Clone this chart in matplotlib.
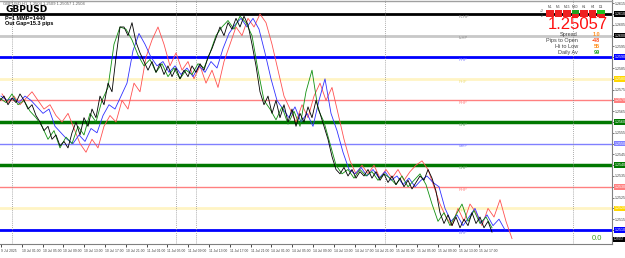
import numpy as np
import matplotlib
matplotlib.use("Agg")
import matplotlib.pyplot as plt
from matplotlib.patches import Rectangle
from matplotlib.transforms import blended_transform_factory

# ---------------- data (price offsets in pips above 1.2500) ----------------
base_price = 1.2500
black_pips = [70, 72, 68, 71, 69, 73, 70, 66, 68, 63, 60, 56, 58, 52, 54, 49, 51, 48, 55, 60,
              54, 62, 58, 66, 62, 72, 68, 78, 74, 90, 104, 104, 100, 106, 97, 92, 88, 84, 88, 83,
              87, 82, 86, 81, 85, 80, 84, 81, 86, 83, 87, 84, 90, 94, 99, 104, 100, 106, 103, 108,
              104, 109, 105, 96, 86, 74, 68, 72, 64, 70, 62, 68, 60, 66, 58, 64, 60, 67, 62, 70,
              64, 58, 52, 44, 38, 36, 39, 35, 38, 34, 37, 35, 38, 34, 37, 33, 36, 32, 35, 31,
              34, 30, 33, 29, 32, 35, 33, 38, 34, 28, 18, 13, 17, 12, 16, 11, 15, 12, 18, 13,
              16, 11, 14, 9]
green_pips = [71, 69, 73, 68, 70, 65, 62, 58, 52, 56, 48, 53, 50, 58, 54, 64, 60, 70, 76, 96,
              104, 103, 98, 91, 86, 89, 83, 87, 81, 85, 80, 84, 82, 87, 85, 92, 100, 104, 107, 103,
              109, 106, 100, 84, 70, 66, 61, 67, 59, 65, 58, 74, 84, 66, 60, 50, 40, 36, 38, 34,
              38, 35, 37, 33, 36, 34, 31, 35, 30, 33, 36, 31, 22, 14, 18, 12, 17, 22, 14, 19,
              13, 16, 11]
blue_pips = [72, 70, 71, 69, 72, 70, 67, 64, 66, 58, 55, 52, 50, 54, 51, 57, 55, 63, 68, 66,
             72, 78, 93, 101, 96, 90, 86, 88, 83, 86, 82, 85, 81, 86, 83, 88, 85, 94, 101, 105,
             108, 104, 108, 103, 92, 80, 70, 66, 62, 67, 60, 64, 58, 70, 80, 64, 56, 46, 38, 36,
             39, 35, 38, 34, 37, 33, 35, 31, 34, 30, 33, 35, 32, 30, 20, 14, 17, 12, 16, 20,
             13, 17, 12, 15, 10]
red_pips = [73, 69, 72, 68, 71, 74, 70, 66, 68, 63, 60, 64, 57, 50, 46, 52, 48, 58, 63, 60,
            70, 66, 78, 74, 90, 98, 104, 96, 86, 92, 84, 88, 80, 86, 78, 84, 76, 88, 96, 104,
            100, 108, 104, 110, 106, 96, 84, 72, 66, 60, 68, 62, 72, 78, 70, 76, 64, 52, 42, 36,
            40, 36, 40, 34, 38, 34, 38, 33, 37, 40, 42, 38, 30, 22, 16, 12, 20, 14, 22, 18,
            12, 20, 16, 24, 14, 6]

level_prices = [1.2610, 1.2600, 1.2590, 1.2580, 1.2570, 1.2560, 1.2550, 1.2540, 1.2530, 1.2520, 1.2510]
level_names = ["F+HP", "I+HP", "RHP", "PHP", "RHP", "GHP", "MHP", "GHP", "RHP", "PHP", "BHP"]
level_colors = ["#000000", "#c8c8c8", "#0000ff", "#fff4c4", "#ff8080", "#007800",
                "#8080ff", "#007800", "#ff8080", "#fff4c4", "#0000ff"]
level_widths = [2.0, 2.0, 2.0, 2.0, 1.0, 2.5, 1.0, 2.5, 1.0, 2.0, 2.0]
level_text_colors = ["#888888", "#888888", "#8080ff", "#f0e080", "#ff8080", "#60a060",
                     "#8080ff", "#60a060", "#ff8080", "#f0e080", "#8080ff"]

date_labels = ["9 Jul 2025", "10 Jul 01:00", "10 Jul 05:00", "10 Jul 09:00", "10 Jul 13:00",
               "10 Jul 17:00", "10 Jul 21:00", "11 Jul 01:00", "11 Jul 05:00", "11 Jul 09:00",
               "11 Jul 13:00", "11 Jul 17:00", "11 Jul 21:00", "14 Jul 01:00", "14 Jul 05:00",
               "14 Jul 09:00", "14 Jul 13:00", "14 Jul 17:00", "14 Jul 21:00", "15 Jul 01:00",
               "15 Jul 05:00", "15 Jul 09:00", "15 Jul 13:00", "15 Jul 17:00"]

current_price = 1.25057
symbol = "GBPUSD"
header = "GBPUSD,H1  1.2504 1.2509 1.25057 1.2504"
info_labels = ["Spread", "Pips to Open", "Hi to Low", "Daily Av"]
info_values = ["1.0", "-48", "55", "99"]
info_colors = ["#ff9020", "#ff5020", "#ff9020", "#20a020"]
tf_labels = ["M1", "M5", "M15", "M30", "H1", "H4", "D1"]
tf_colors = ["#ee2020", "#ee2020", "#ee2020", "#20a020", "#ee2020", "#ee2020", "#20c020"]

# ---------------- figure ----------------
W, H = 625, 258
fig = plt.figure(figsize=(W / 100, H / 100), dpi=100)
ax = fig.add_axes([0, 14 / H, 612 / W, 244 / H])
ax.set_facecolor("white")
ax.set_xlim(0, 612)
ax.set_ylim(1.25035, 1.26165)

def to_price(p):
    return base_price + np.asarray(p) / 10000.0

NF = "Liberation Sans"

# levels
for lp, lc, lw, ln, tc in zip(level_prices, level_colors, level_widths, level_names, level_text_colors):
    ax.axhline(lp, color=lc, lw=lw, zorder=1)
    ax.text(459, lp - 0.00004, ln, fontsize=3.0, color=tc, va="top", ha="left", zorder=2, family=NF)

# separators
for xs in [12, 176, 196, 385, 573]:
    ax.axvline(xs, color="#909090", lw=0.6, ls=(0, (1, 1.5)), zorder=1)

# price lines
step_b = 4
step_o = 6
ax.plot(np.arange(len(red_pips)) * step_o + 2, to_price(red_pips), color="#ff5050", lw=0.6, zorder=3)
ax.plot(np.arange(len(blue_pips)) * step_o + 1, to_price(blue_pips), color="#3030ff", lw=0.6, zorder=4)
ax.plot(np.arange(len(green_pips)) * step_o, to_price(green_pips), color="#109010", lw=0.6, zorder=5)
ax.plot(np.arange(len(black_pips)) * step_b, to_price(black_pips), color="#000000", lw=0.6, zorder=6)

# axes styling
for s in ["left", "top"]:
    ax.spines[s].set_visible(False)
ax.spines["right"].set_color("#808080")
ax.spines["bottom"].set_color("#808080")
ax.spines["right"].set_linewidth(0.8)
ax.spines["bottom"].set_linewidth(0.8)
ax.yaxis.tick_right()
yt = np.arange(1.2510, 1.2617, 0.0005)
ax.set_yticks(yt)
ax.set_yticklabels(["%.4f" % v for v in yt], fontsize=2.6, color="#404040", family=NF)
ax.tick_params(axis="y", length=1.5, width=0.5, pad=0.8, colors="#404040")
xt = 1 + np.arange(len(date_labels)) * 20.8
ax.set_xticks(xt)
ax.set_xticklabels(date_labels, fontsize=2.4, color="#404040", ha="left", family=NF)
ax.tick_params(axis="x", length=2, width=0.5, pad=1.5)

# right axis colored boxes
trans = blended_transform_factory(ax.transAxes, ax.transData)
for lp, lc in zip(level_prices, level_colors):
    fc = lc
    if lc == "#fff4c4":
        fc = "#ffd700"
    if lc == "#c8c8c8":
        fc = "#000000"
    ax.text(1.004, lp, "%.4f" % lp, transform=trans, fontsize=2.6, color="white", va="center", ha="left",
            bbox=dict(boxstyle="square,pad=0.2", fc=fc, ec="none"), zorder=10, clip_on=False, family=NF)
ax.text(1.003, current_price, "%.5f" % current_price, transform=trans, fontsize=2.0, color="white",
        va="center", ha="left", bbox=dict(boxstyle="square,pad=0.2", fc="black", ec="none"),
        zorder=10, clip_on=False, family=NF)

# ---------------- overlays in pixel coordinates ----------------
def fx(x):
    return x / W

def fy(y):
    return 1 - y / H

fig.add_artist(plt.Line2D([0, fx(612)], [fy(0.5), fy(0.5)], color="#a0a0a0", lw=1))

fig.text(fx(3), fy(4), header, fontsize=3, color="#606060", va="center", ha="left", family=NF)
fig.text(fx(5), fy(9.5), symbol, fontsize=6.5, fontweight="bold", color="black", va="center", ha="left")
fig.text(fx(5), fy(18), "P=1 MMP=1440", fontsize=4, fontweight="bold", color="black", va="center",
         ha="left", family=NF)
fig.text(fx(5), fy(24), "Out Gap=15.3 pips", fontsize=4, fontweight="bold", color="black", va="center",
         ha="left", family=NF)

# timeframe signal grid
for i, (tl, tc) in enumerate(zip(tf_labels, tf_colors)):
    cx = 550 + i * 8.5
    fig.text(fx(cx), fy(7), tl, fontsize=2.4, color="#404040", va="center", ha="center", family=NF)
    fig.add_artist(Rectangle((fx(cx - 3.8), fy(13.5)), 7.6 / W, 3 / H, transform=fig.transFigure,
                             fc=tc, ec="none"))
    fig.add_artist(Rectangle((fx(cx - 3.8), fy(17)), 7.6 / W, 3 / H, transform=fig.transFigure,
                             fc="#ee2020", ec="none"))
fig.text(fx(544), fy(11), "+2", fontsize=2.4, color="#404040", va="center", ha="right", family=NF)
fig.text(fx(544), fy(16), "-2", fontsize=2.4, color="#404040", va="center", ha="right", family=NF)

fig.text(fx(608), fy(24.5), "1.25057", fontsize=12, color="#ff1010", va="center", ha="right", family=NF)
for i, (lab, val, vc) in enumerate(zip(info_labels, info_values, info_colors)):
    yy = 34.5 + i * 6
    fig.text(fx(578), fy(yy), lab, fontsize=4, color="#404040", va="center", ha="right", family=NF)
    fig.text(fx(600), fy(yy), val, fontsize=4, color=vc, va="center", ha="right", fontweight="bold",
             family=NF)

fig.text(fx(602), fy(239), "0.0", fontsize=5.5, color="#40a020", va="center", ha="right", family=NF)

fig.savefig("out.png", dpi=100, facecolor="white")
